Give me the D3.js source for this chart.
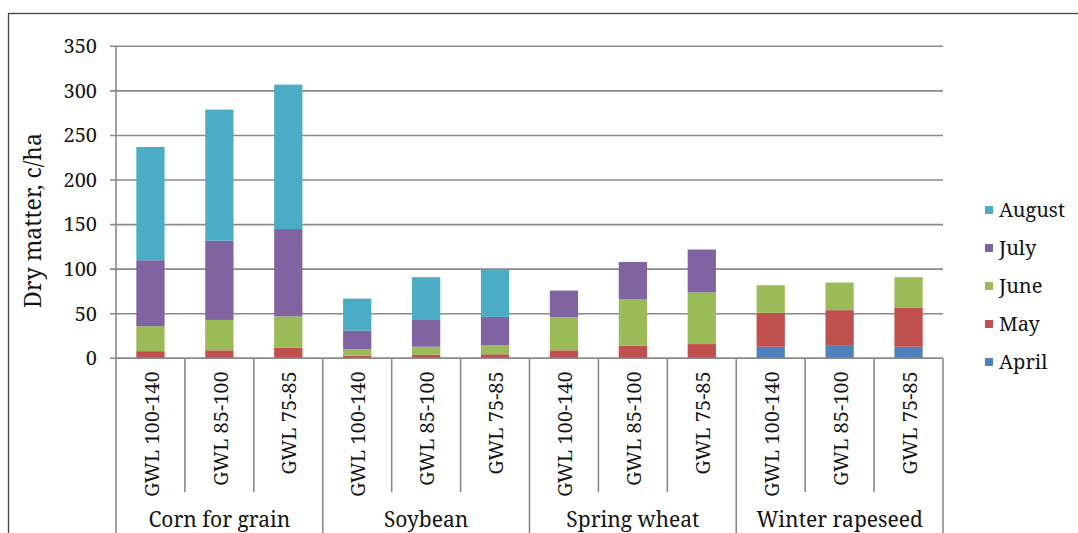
<!DOCTYPE html>
<html>
<head>
<meta charset="utf-8">
<script src="https://cdn.jsdelivr.net/npm/d3@7"></script>
<style>
  html, body { margin: 0; padding: 0; background: #fff; }
  svg { display: block; }
</style>
</head>
<body>
<svg id="chart" width="1078" height="533"></svg>
<script>
// Crops and groundwater-level treatments
const crops = ["Corn for grain", "Soybean", "Spring wheat", "Winter rapeseed"];
const levels = ["GWL 100-140", "GWL 85-100", "GWL 75-85"];
const months = ["April", "May", "June", "July", "August"];

// Monthly dry matter increments, c/ha (one value per crop × level bar)
const april  = [0, 0, 0,    0, 0, 0,     0, 0, 0,     13, 14, 13];
const may    = [8, 9, 12,   3, 4, 4.5,   9, 14, 16,   38, 40, 44];
const june   = [28, 34, 35, 7, 9, 10,    37, 52, 58,  31, 31, 34];
const july   = [74, 89, 98, 21, 30, 32,  30, 42, 48,  0, 0, 0];
const august = [127, 147, 162, 36, 48, 52.5, 0, 0, 0, 0, 0, 0];

const yTicks = [0, 50, 100, 150, 200, 250, 300, 350];
const colors = ["#4F81BD", "#C0504D", "#9BBB59", "#8064A2", "#4BACC6"];

const FONT = '"Noto Serif", "DejaVu Serif", serif';
const INK = "#141414";
const GRID = "#8a8a8a";

const svg = d3.select("#chart")
  .attr("font-family", FONT)
  .style("font-family", FONT);

// Text helper: labels sit directly on the svg root with the serif face
function label(cls, data) {
  return svg.selectAll("text." + cls).data(data).join("text")
    .attr("class", cls)
    .attr("font-family", FONT)
    .style("font-family", FONT)
    .attr("fill", INK);
}

// Outer frame of the chart area
svg.append("rect")
  .attr("x", 8.5).attr("y", 13.5)
  .attr("width", 1200).attr("height", 600)
  .attr("fill", "none").attr("stroke", "#444").attr("stroke-width", 1.3);

const plotLeft = 116, plotRight = 943, plotTop = 46.3, plotBottom = 358.3;

const rows = d3.range(crops.length * levels.length).map(i => ({
  crop: crops[Math.floor(i / levels.length)],
  level: levels[i % levels.length],
  April: april[i], May: may[i], June: june[i], July: july[i], August: august[i],
  idx: i
}));

const x = d3.scaleBand()
  .domain(rows.map(d => d.idx))
  .range([plotLeft, plotRight])
  .paddingInner(0.59)
  .paddingOuter(0.295);

const y = d3.scaleLinear().domain([0, 350]).range([plotBottom, plotTop]);
const color = d3.scaleOrdinal().domain(months).range(colors);

// Horizontal gridlines with short outside ticks
svg.append("g").selectAll("line").data(yTicks).join("line")
  .attr("x1", plotLeft - 6).attr("x2", plotRight)
  .attr("y1", d => y(d)).attr("y2", d => y(d))
  .attr("stroke", GRID).attr("stroke-width", 1.6);

// Y tick labels
const yFormat = y.tickFormat(7);
label("ytick", yTicks)
  .attr("x", plotLeft - 19)
  .attr("y", d => y(d))
  .attr("dy", "0.34em")
  .attr("text-anchor", "end")
  .attr("font-size", 20).style("font-size", "20px")
  .text(d => yFormat(d));

svg.append("line")
  .attr("x1", plotLeft).attr("x2", plotLeft)
  .attr("y1", plotTop).attr("y2", plotBottom)
  .attr("stroke", GRID).attr("stroke-width", 1.6);

// Stacked bars
const stacked = d3.stack().keys(months)(rows);
svg.append("g").selectAll("g").data(stacked).join("g")
  .attr("fill", s => color(s.key))
  .selectAll("rect").data(s => s.filter(p => p[1] - p[0] > 0)).join("rect")
  .attr("x", p => x(p.data.idx))
  .attr("width", x.bandwidth())
  .attr("y", p => y(p[1]))
  .attr("height", p => y(p[0]) - y(p[1]));

// Category axis: baseline, dividers and labels
const step = x.step();
svg.append("line")
  .attr("x1", plotLeft).attr("x2", plotRight)
  .attr("y1", plotBottom).attr("y2", plotBottom)
  .attr("stroke", GRID).attr("stroke-width", 1.6);

const dividers = d3.range(rows.length + 1);
svg.append("g").selectAll("line").data(dividers).join("line")
  .attr("x1", i => plotLeft + i * step).attr("x2", i => plotLeft + i * step)
  .attr("y1", plotBottom)
  .attr("y2", i => (i % levels.length === 0) ? 540 : 492)
  .attr("stroke", GRID).attr("stroke-width", 1.6);

label("level", rows)
  .attr("transform", d => `translate(${x(d.idx) + x.bandwidth() / 2 + 1},${plotBottom + 13}) rotate(-90)`)
  .attr("text-anchor", "end")
  .attr("dy", "0.36em")
  .attr("font-size", 20).style("font-size", "20px")
  .text(d => d.level);

label("crop", crops)
  .attr("x", (d, i) => plotLeft + (i * levels.length + levels.length / 2) * step)
  .attr("y", 527)
  .attr("text-anchor", "middle")
  .attr("font-size", 21).style("font-size", "21px")
  .text(d => d);

// Y axis title
label("ytitle", ["Dry matter, c/ha"])
  .attr("transform", `translate(33,${(133 + 308) / 2}) rotate(-90)`)
  .attr("text-anchor", "middle")
  .attr("dy", "0.36em")
  .attr("font-size", 23).style("font-size", "23px")
  .text(d => d);

// Legend (latest month on top)
const legendMonths = months.slice().reverse();
svg.selectAll("rect.swatch").data(legendMonths).join("rect")
  .attr("class", "swatch")
  .attr("x", 985).attr("y", (d, i) => 206 + i * 38)
  .attr("width", 8).attr("height", 8)
  .attr("fill", d => color(d));
label("legend", legendMonths)
  .attr("x", 999).attr("y", (d, i) => 210 + i * 38)
  .attr("dy", "0.35em")
  .attr("font-size", 20).style("font-size", "20px")
  .text(d => d);
</script>
</body>
</html>
